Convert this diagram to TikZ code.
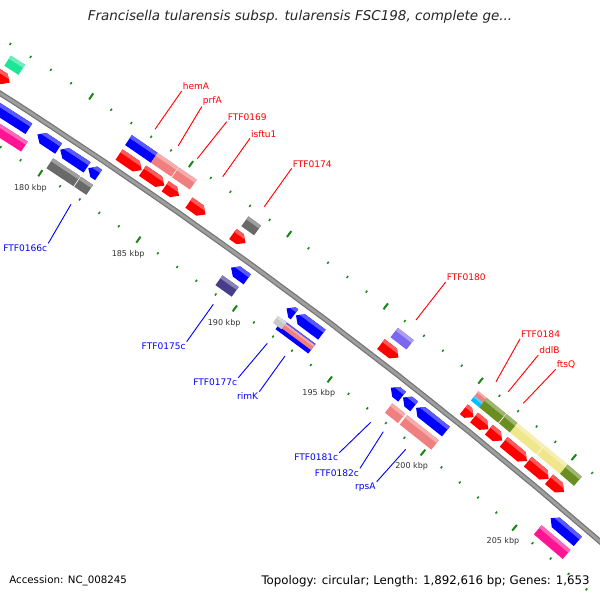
\documentclass[tikz,border=0pt]{standalone}
\usepackage{fontspec}
\setmainfont{DejaVu Sans}
\definecolor{tickgreen}{RGB}{25,135,25}
\definecolor{bbdark}{RGB}{115,115,115}
\definecolor{bbmid}{RGB}{158,158,158}
\definecolor{fred}{RGB}{255,0,0}
\definecolor{fblue}{RGB}{0,0,255}
\definecolor{fcoral}{RGB}{240,128,128}
\definecolor{fpink}{RGB}{255,20,147}
\definecolor{fgray}{RGB}{105,105,105}
\definecolor{flgray}{RGB}{200,200,200}
\definecolor{fmint}{RGB}{30,230,150}
\definecolor{fdslate}{RGB}{72,61,139}
\definecolor{fmslate}{RGB}{123,104,238}
\definecolor{folive}{RGB}{107,142,35}
\definecolor{fkhaki}{RGB}{240,230,140}
\definecolor{fcyan}{RGB}{0,191,255}
\def\Rb{5203.5}
% box: p1 p2 d1 d2 colour
\newcommand\gbox[5]{%
  \pgfmathsetmacro\gA{-56.5+0.2632*(#1-180)}%
  \pgfmathsetmacro\gB{-56.5+0.2632*(#2-180)}%
  \pgfmathsetmacro\gRa{\Rb+(#3)}%
  \pgfmathsetmacro\gRb{\Rb+(#4)}%
  \pgfmathsetmacro\gRc{\Rb+(#4)-0.3*((#4)-(#3))}%
  \fill[#5] (\gA:\gRa) -- (\gB:\gRa) -- (\gB:\gRb) -- (\gA:\gRb) -- cycle;
  \fill[#5!65!white] (\gA:\gRc) -- (\gB:\gRc) -- (\gB:\gRb) -- (\gA:\gRb) -- cycle;
}
% forward arrow, tip at p2
\newcommand\garrF[5]{%
  \pgfmathsetmacro\gA{-56.5+0.2632*(#1-180)}%
  \pgfmathsetmacro\gB{-56.5+0.2632*(#2-180)}%
  \pgfmathsetmacro\gH{max(\gA,\gB-0.0737)}%
  \pgfmathsetmacro\gRa{\Rb+(#3)}%
  \pgfmathsetmacro\gRb{\Rb+(#4)}%
  \pgfmathsetmacro\gRm{\Rb+((#3)+(#4))/2}%
  \pgfmathsetmacro\gRc{\Rb+(#4)-0.3*((#4)-(#3))}%
  \begin{scope}
  \fill[#5] (\gA:\gRa) -- (\gH:\gRa) -- (\gB:\gRm) -- (\gH:\gRb) -- (\gA:\gRb) -- cycle;
  \clip (\gA:\gRa) -- (\gH:\gRa) -- (\gB:\gRm) -- (\gH:\gRb) -- (\gA:\gRb) -- cycle;
  \fill[#5!65!white] (\gA:\gRc) -- (\gB:\gRc) -- (\gB:\gRb) -- (\gA:\gRb) -- cycle;
  \end{scope}
}
% reverse arrow, tip at p1
\newcommand\garrR[5]{%
  \pgfmathsetmacro\gA{-56.5+0.2632*(#1-180)}%
  \pgfmathsetmacro\gB{-56.5+0.2632*(#2-180)}%
  \pgfmathsetmacro\gH{min(\gB,\gA+0.0737)}%
  \pgfmathsetmacro\gRa{\Rb+(#3)}%
  \pgfmathsetmacro\gRb{\Rb+(#4)}%
  \pgfmathsetmacro\gRm{\Rb+((#3)+(#4))/2}%
  \pgfmathsetmacro\gRc{\Rb+(#4)-0.3*((#4)-(#3))}%
  \begin{scope}
  \fill[#5] (\gA:\gRm) -- (\gH:\gRa) -- (\gB:\gRa) -- (\gB:\gRb) -- (\gH:\gRb) -- cycle;
  \clip (\gA:\gRm) -- (\gH:\gRa) -- (\gB:\gRa) -- (\gB:\gRb) -- (\gH:\gRb) -- cycle;
  \fill[#5!65!white] (\gA:\gRc) -- (\gB:\gRc) -- (\gB:\gRb) -- (\gA:\gRb) -- cycle;
  \end{scope}
}
\begin{document}
\begin{tikzpicture}[x=0.025cm,y=-0.025cm,
  lbl/.style={font=\fontsize{6.45}{7}\selectfont, inner sep=0.6pt},
  redlbl/.style={lbl, text=fred, anchor=south west},
  bluelbl/.style={lbl, text=fblue, anchor=north east},
  redline/.style={draw=fred, line width=0.65pt},
  blueline/.style={draw=fblue, line width=0.65pt},
  ticklbl/.style={font=\fontsize{5.7}{6}\selectfont, text=black!80, inner sep=0pt},
  minortick/.style={draw=tickgreen, line width=1.1pt},
  majortick/.style={draw=tickgreen, line width=1.4pt},
  info/.style={text=black, inner sep=0pt}]
\useasboundingbox (0,0) rectangle (600,600);
\fill[white] (0,0) rectangle (600,600);
\begin{scope}
\clip (0,0) rectangle (600,600);
\begin{scope}[shift={(-2806.7,4474.6)}]
  % ticks
  \foreach \p in {174,...,210}{
    \pgfmathsetmacro\gT{-56.5+0.2632*(\p-180)}
    \draw[minortick] (\gT:5157.3) -- (\gT:5159.7);
    \draw[minortick] (\gT:5249.4) -- (\gT:5251.8);
  }
  \foreach \p in {175,180,...,210}{
    \pgfmathsetmacro\gT{-56.5+0.2632*(\p-180)}
    \draw[majortick] (\gT:5154.8) -- (\gT:5162.2);
    \draw[majortick] (\gT:5246.9) -- (\gT:5254.3);
  }
  \foreach \p in {180,185,...,205}{
    \pgfmathsetmacro\gT{-56.5+0.2632*(\p-180)}
    \node[ticklbl] (tl\p) at (\gT:5140.5) {\p\ kbp};
  }
  % backbone
  \draw[bbdark, line width=3.8pt] plot[domain=-58.2:-48.3, samples=90] (\x:\Rb);
  \draw[bbmid, line width=2.1pt] plot[domain=-58.2:-48.3, samples=90] (\x:\Rb);
  % outer slot 1: red forward arrows
  \foreach \a/\b in {175.3/176.85, 182.31/183.46, 183.5/184.6, 184.65/185.35,
     185.85/186.7, 188.1/188.75, 195.8/196.72, 200.2/200.72, 200.75/201.52,
     201.55/202.26, 202.35/203.6, 203.65/204.78, 204.8/205.62, 207.85/209.0}{
    \garrF{\a}{\b}{8}{20.5}{fred}
  }
  % outer slot 2: boxes
  \gbox{176.28}{176.98}{25.5}{37.5}{fmint}
  \gbox{182.3}{183.6}{25.5}{37.5}{fblue}
  \gbox{183.6}{184.63}{25.5}{37.5}{fcoral}
  \gbox{184.67}{185.57}{25.5}{37.5}{fcoral}
  \gbox{188.2}{188.85}{25.5}{37.5}{fgray}
  \gbox{195.94}{196.78}{25.5}{37.5}{fmslate}
  \gbox{200.2}{200.65}{25.5}{31.5}{fcyan}
  \gbox{200.2}{200.65}{31.5}{37.5}{fcoral}
  \gbox{200.65}{201.67}{25.5}{37.5}{folive}
  \gbox{201.71}{202.3}{25.5}{37.5}{folive}
  \gbox{202.3}{203.72}{25.5}{37.5}{fkhaki}
  \gbox{203.76}{205.0}{25.5}{37.5}{fkhaki}
  \gbox{205.0}{205.77}{25.5}{37.5}{folive}
  % inner slot 1: blue reverse arrows
  \foreach \a/\b in {174.0/178.57, 179.0/180.07, 180.15/181.5, 181.56/182.08,
     188.86/189.7, 191.75/192.17, 192.24/193.6, 197.25/197.85, 197.9/198.5,
     198.6/200.2, 205.9/207.4}{
    \garrR{\a}{\b}{-20.5}{-8}{fblue}
  }
  % inner slot 2: boxes
  \gbox{174.0}{178.82}{-37.5}{-25.5}{fpink}
  \gbox{180.1}{181.47}{-37.5}{-25.5}{fgray}
  \gbox{181.51}{182.12}{-37.5}{-25.5}{fgray}
  \gbox{188.76}{189.6}{-37.5}{-25.5}{fdslate}
  \gbox{191.9}{193.62}{-37.5}{-25.5}{fblue}
  \gbox{191.9}{193.62}{-33}{-27}{fcoral}
  \gbox{191.65}{192.1}{-34}{-25.5}{flgray}
  \gbox{197.7}{198.4}{-37.5}{-25.5}{fcoral}
  \gbox{198.5}{200.2}{-37.5}{-25.5}{fcoral}
  \gbox{205.8}{207.4}{-37.5}{-25.5}{fpink}
\end{scope}
\end{scope}
% red labels (outer)
\node[redlbl] (hemA) at (181.7,91) {hemA};
\node[redlbl] (prfA) at (201.7,106.7) {prfA};
\node[redlbl] (F169) at (226.7,121.7) {FTF0169};
\node[redlbl] (isftu) at (250,138.3) {isftu1};
\node[redlbl] (F174) at (291.7,168.3) {FTF0174};
\node[redlbl] (F180) at (445.7,282) {FTF0180};
\node[redlbl] (F184) at (520,339) {FTF0184};
\node[redlbl] (ddlB) at (538.3,355) {ddlB};
\node[redlbl] (ftsQ) at (555.7,369.3) {ftsQ};
\coordinate (hemAe) at (155,129.3);
\coordinate (prfAe) at (178.3,145.7);
\coordinate (F169e) at (197.3,158.7);
\coordinate (isftue) at (222.7,176.7);
\coordinate (F174e) at (264.3,206.7);
\coordinate (F180e) at (416,320);
\coordinate (F184e) at (496,381.7);
\coordinate (ddlBe) at (508.3,391.7);
\coordinate (ftsQe) at (523.3,403.3);
\foreach \n in {hemA,prfA,F169,isftu,F174,F180,F184,ddlB,ftsQ}{
  \draw[redline] (\n.south west) -- (\n e);
}
% blue labels (inner)
\node[bluelbl] (F166) at (48.3,243.3) {FTF0166c};
\node[bluelbl] (F175) at (186.7,341.7) {FTF0175c};
\node[bluelbl] (F177) at (238.3,377.7) {FTF0177c};
\node[bluelbl] (rimK) at (259.3,391.7) {rimK};
\node[bluelbl] (F181) at (339.3,452.7) {FTF0181c};
\node[bluelbl] (F182) at (360,468.3) {FTF0182c};
\node[bluelbl] (rpsA) at (376.7,481.7) {rpsA};
\coordinate (F166e) at (71,204.3);
\coordinate (F175e) at (213.3,304.3);
\coordinate (F177e) at (267.3,343.3);
\coordinate (rimKe) at (285,356);
\coordinate (F181e) at (370.7,422.3);
\coordinate (F182e) at (383.3,431.7);
\coordinate (rpsAe) at (405.7,449.3);
\foreach \n in {F166,F175,F177,rimK,F181,F182,rpsA}{
  \draw[blueline] (\n.north east) -- (\n e);
}
% title and info
\node[font=\fontsize{9.6}{11}\selectfont\itshape, text=black!85, inner sep=0pt] (title) at (300,17)
  {Francisella tularensis subsp. tularensis FSC198, complete ge...};
\node[info, font=\fontsize{7.3}{9}\selectfont, anchor=west] (acc) at (9,581) {Accession: NC\_008245};
\node[info, font=\fontsize{8.4}{9}\selectfont, anchor=east] (topo) at (590,581) {Topology: circular; Length: 1,892,616 bp; Genes: 1,653};
\end{tikzpicture}
\end{document}
